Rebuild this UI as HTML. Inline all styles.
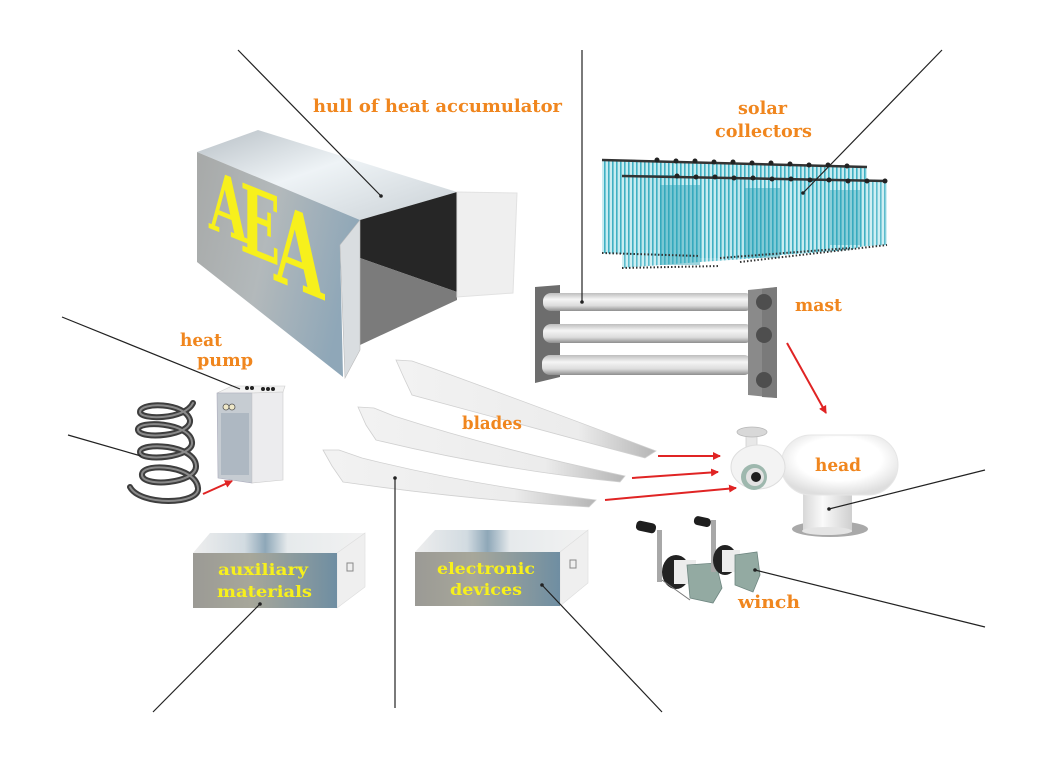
<!DOCTYPE html>
<html><head><meta charset="utf-8"><style>
html,body{margin:0;padding:0;background:#fff;}
svg{display:block;}
.lbl{font-family:"DejaVu Serif","Liberation Serif",serif;font-weight:bold;fill:#f0861e;}
.yl{font-family:"DejaVu Serif","Liberation Serif",serif;font-weight:bold;fill:#f7f01c;}
.ln{stroke:#222;stroke-width:1.2;fill:none;}
.ar{stroke:#e02424;stroke-width:2;fill:none;marker-end:url(#ah);}
</style></head><body>
<svg width="1040" height="777" viewBox="0 0 1040 777" xmlns="http://www.w3.org/2000/svg">
<defs>
<marker id="ah" markerWidth="8" markerHeight="8" refX="7" refY="4" orient="auto" markerUnits="userSpaceOnUse">
<path d="M0,0 L8,4 L0,8 Z" fill="#e02424"/></marker>
<linearGradient id="topg" x1="0" y1="0" x2="1" y2="1">
<stop offset="0" stop-color="#b8c0c6"/><stop offset="0.45" stop-color="#eef3f6"/><stop offset="1" stop-color="#c9d0d5"/></linearGradient>
<linearGradient id="sideg" x1="0" y1="0" x2="1" y2="0.3">
<stop offset="0" stop-color="#a7a9a8"/><stop offset="0.5" stop-color="#b3b9bb"/><stop offset="1" stop-color="#8fa7b8"/></linearGradient>
<linearGradient id="tube" x1="0" y1="0" x2="0" y2="1">
<stop offset="0" stop-color="#bdbdbd"/><stop offset="0.35" stop-color="#f5f5f5"/><stop offset="0.7" stop-color="#dcdcdc"/><stop offset="1" stop-color="#8e8e8e"/></linearGradient>
<linearGradient id="boxf" x1="0" y1="0" x2="1" y2="0">
<stop offset="0" stop-color="#9b9a95"/><stop offset="0.4" stop-color="#a7a79a"/><stop offset="1" stop-color="#6f8ea2"/></linearGradient>
<linearGradient id="boxt" x1="0" y1="0" x2="1" y2="0">
<stop offset="0" stop-color="#eeeeee"/><stop offset="0.3" stop-color="#d2dbe1"/><stop offset="0.42" stop-color="#8ea7b8"/><stop offset="0.55" stop-color="#e6eaec"/><stop offset="1" stop-color="#f2f2f2"/></linearGradient>
<linearGradient id="blade" x1="0" y1="0" x2="1" y2="0">
<stop offset="0" stop-color="#f2f2f2"/><stop offset="0.7" stop-color="#ececec"/><stop offset="1" stop-color="#b5b5b5"/></linearGradient>
<pattern id="tubes" width="4" height="10" patternUnits="userSpaceOnUse">
<rect width="4" height="10" fill="#c8ecf1"/><rect width="1.6" height="10" fill="#3fb0c3"/></pattern>
<linearGradient id="ped" x1="0" y1="0" x2="1" y2="0">
<stop offset="0" stop-color="#d8d8d8"/><stop offset="0.4" stop-color="#fafafa"/><stop offset="1" stop-color="#cfcfcf"/></linearGradient>
<radialGradient id="capg" cx="0.5" cy="0.4" r="0.6">
<stop offset="0.6" stop-color="#ffffff"/><stop offset="1" stop-color="#dedede"/></radialGradient>
</defs>
<rect width="1040" height="777" fill="#fff"/>

<!-- HULL -->
<polygon points="197,152 258,130 457,192 360,220" fill="url(#topg)"/>
<polygon points="197,152 360,220 340,245 343,377 197,262" fill="url(#sideg)"/>
<polygon points="360,220 457,192 457,292 360,258" fill="#262626"/>
<polygon points="360,258 457,292 457,300 360,345" fill="#7b7b7b"/>
<polygon points="457,192 517,193 513,293 457,297" fill="#efefef" stroke="#e2e2e2" stroke-width="1"/>
<polygon points="340,245 360,220 360,350 345,378" fill="#d9dde0" stroke="#bbb" stroke-width="0.6"/>
<text class="yl" font-size="82" transform="translate(209,228) skewY(22) scale(0.6,1)">A</text>
<text class="yl" font-size="94" transform="translate(240,250) skewY(22) scale(0.56,1)">E</text>
<text class="yl" font-size="108" transform="translate(274,280) skewY(22) scale(0.6,1)">A</text>
<line class="ln" x1="238" y1="50" x2="381" y2="196"/>
<circle cx="381" cy="196" r="1.8" fill="#222"/>
<text class="lbl" x="313" y="112" font-size="18" textLength="249" lengthAdjust="spacingAndGlyphs">hull of heat accumulator</text>

<!-- SOLAR -->
<polygon points="602,160 867,167 867,245 850,250 740,258 700,258 602,253" fill="url(#tubes)"/>
<rect x="640" y="175" width="40" height="75" fill="#2aa2b6" opacity="0.55"/>
<rect x="720" y="178" width="35" height="72" fill="#2aa2b6" opacity="0.5"/>
<rect x="800" y="180" width="30" height="60" fill="#2aa2b6" opacity="0.45"/>
<polygon points="622,176 887,181 887,245 800,250 760,258 700,262 622,268" fill="url(#tubes)" opacity="0.85"/>
<rect x="660" y="185" width="40" height="80" fill="#2aa2b6" opacity="0.45"/>
<rect x="745" y="188" width="35" height="70" fill="#2aa2b6" opacity="0.45"/>
<rect x="830" y="190" width="30" height="55" fill="#2aa2b6" opacity="0.4"/>
<line x1="602" y1="160" x2="867" y2="167" stroke="#333" stroke-width="2.5"/>
<line x1="622" y1="176" x2="887" y2="181" stroke="#333" stroke-width="2.5"/>
<g fill="#222">
<circle cx="657" cy="160" r="2.5"/><circle cx="676" cy="161" r="2.5"/><circle cx="695" cy="161" r="2.5"/><circle cx="714" cy="162" r="2.5"/><circle cx="733" cy="162" r="2.5"/><circle cx="752" cy="163" r="2.5"/><circle cx="771" cy="163" r="2.5"/><circle cx="790" cy="164" r="2.5"/><circle cx="809" cy="165" r="2.5"/><circle cx="828" cy="165" r="2.5"/><circle cx="847" cy="166" r="2.5"/>
<circle cx="677" cy="176" r="2.5"/><circle cx="696" cy="177" r="2.5"/><circle cx="715" cy="177" r="2.5"/><circle cx="734" cy="178" r="2.5"/><circle cx="753" cy="178" r="2.5"/><circle cx="772" cy="179" r="2.5"/><circle cx="791" cy="179" r="2.5"/><circle cx="810" cy="180" r="2.5"/><circle cx="829" cy="180" r="2.5"/><circle cx="848" cy="181" r="2.5"/><circle cx="867" cy="181" r="2.5"/><circle cx="885" cy="181" r="2.5"/>
</g>
<line x1="602" y1="253" x2="700" y2="256" stroke="#333" stroke-width="2" stroke-dasharray="1.5,2"/>
<line x1="622" y1="268" x2="720" y2="266" stroke="#333" stroke-width="2" stroke-dasharray="1.5,2"/>
<line x1="720" y1="258" x2="850" y2="248" stroke="#333" stroke-width="2" stroke-dasharray="1.5,2"/>
<line x1="740" y1="262" x2="887" y2="245" stroke="#333" stroke-width="2" stroke-dasharray="1.5,2"/>
<line class="ln" x1="942" y1="50" x2="803" y2="193"/>
<circle cx="803" cy="193" r="1.8" fill="#222"/>
<text class="lbl" x="738" y="114" font-size="18" textLength="49" lengthAdjust="spacingAndGlyphs">solar</text>
<text class="lbl" x="715" y="137" font-size="18" textLength="97" lengthAdjust="spacingAndGlyphs">collectors</text>

<!-- MAST -->
<polygon points="535,287 560,285 560,377 535,383" fill="#6d6d6d"/>
<rect x="543" y="293" width="210" height="18" rx="8" fill="url(#tube)"/>
<rect x="543" y="324" width="210" height="19" rx="8" fill="url(#tube)"/>
<rect x="542" y="355" width="210" height="20" rx="8" fill="url(#tube)"/>
<polygon points="748,290 777,287 777,398 748,395" fill="#8a8a8a"/>
<polygon points="762,289 777,287 777,398 762,397" fill="#7a7a7a"/>
<circle cx="764" cy="302" r="8" fill="#4e4e4e"/>
<circle cx="764" cy="335" r="8" fill="#4e4e4e"/>
<circle cx="764" cy="380" r="8" fill="#4e4e4e"/>
<line class="ln" x1="582" y1="50" x2="582" y2="302"/>
<circle cx="582" cy="302" r="1.8" fill="#222"/>
<text class="lbl" x="795" y="311" font-size="18" textLength="47" lengthAdjust="spacingAndGlyphs">mast</text>
<line class="ar" x1="787" y1="343" x2="826" y2="413"/>

<!-- BLADES -->
<path d="M396,360 L412,361 L432,368 Q520,400 656,451 L645,458 Q540,430 412,395 L404,378 Z" fill="url(#blade)" stroke="#d0d0d0" stroke-width="0.8"/>
<path d="M358,407 L374,408 L394,416 Q500,450 625,476 L620,482 Q500,470 376,440 L366,425 Z" fill="url(#blade)" stroke="#d0d0d0" stroke-width="0.8"/>
<path d="M323,450 L339,450 L362,458 Q470,485 596,500 L589,507 Q470,500 343,482 L332,466 Z" fill="url(#blade)" stroke="#d0d0d0" stroke-width="0.8"/>
<text class="lbl" x="462" y="429" font-size="18" textLength="60" lengthAdjust="spacingAndGlyphs">blades</text>
<line class="ln" x1="395" y1="478" x2="395" y2="708"/>
<circle cx="395" cy="478" r="1.8" fill="#222"/>
<line class="ar" x1="658" y1="456" x2="720" y2="456"/>
<line class="ar" x1="632" y1="478" x2="718" y2="472"/>
<line class="ar" x1="605" y1="500" x2="736" y2="488"/>

<!-- HEAD -->
<ellipse cx="830" cy="529" rx="38" ry="8" fill="#a9a9a9"/>
<rect x="803" y="490" width="49" height="42" fill="url(#ped)"/>
<ellipse cx="827" cy="531" rx="25" ry="4" fill="#e4e4e4"/>
<rect x="781" y="435" width="117" height="60" rx="30" fill="url(#capg)" stroke="#e6e6e6" stroke-width="1"/>
<rect x="746" y="430" width="11" height="22" fill="#e8e8e8" stroke="#cfcfcf" stroke-width="0.8"/>
<ellipse cx="752" cy="432" rx="15" ry="5" fill="#d8d8d8" stroke="#b8b8b8" stroke-width="0.8"/>
<ellipse cx="758" cy="467" rx="27" ry="22" fill="#f3f3f3" stroke="#dedede" stroke-width="1"/>
<circle cx="754" cy="477" r="13" fill="#9eb8ae"/>
<circle cx="755" cy="477" r="9" fill="#e2e2e2"/>
<circle cx="756" cy="477" r="5" fill="#1e1e1e"/>
<text class="lbl" x="815" y="471" font-size="18" textLength="46" lengthAdjust="spacingAndGlyphs">head</text>
<line class="ln" x1="985" y1="470" x2="829" y2="509"/>
<circle cx="829" cy="509" r="1.8" fill="#222"/>

<!-- WINCH -->
<g>
<rect x="657" y="530" width="5" height="52" fill="#a8a8a8"/>
<rect x="636" y="522" width="20" height="10" rx="4" fill="#1e1e1e" transform="rotate(12 646 527)"/>
<ellipse cx="676" cy="572" rx="14" ry="17" fill="#222"/>
<rect x="674" y="560" width="22" height="24" fill="#ececec"/>
<polygon points="687,565 716,563 722,588 713,603 690,598" fill="#93aaa2" stroke="#6e8680" stroke-width="0.8"/>
<line x1="662" y1="580" x2="690" y2="600" stroke="#777" stroke-width="1"/>
<rect x="711" y="520" width="5" height="52" fill="#a8a8a8"/>
<rect x="694" y="517" width="17" height="9" rx="4" fill="#1e1e1e" transform="rotate(12 702 521)"/>
<ellipse cx="725" cy="560" rx="12" ry="15" fill="#222"/>
<rect x="722" y="550" width="18" height="22" fill="#ececec"/>
<polygon points="735,555 757,552 760,575 753,592 735,585" fill="#93aaa2" stroke="#6e8680" stroke-width="0.8"/>
</g>
<line class="ln" x1="755" y1="570" x2="985" y2="627"/>
<circle cx="755" cy="570" r="1.8" fill="#222"/>
<text class="lbl" x="738" y="608" font-size="18" textLength="62" lengthAdjust="spacingAndGlyphs">winch</text>

<!-- HEAT PUMP -->
<polygon points="217,393 232,386 285,386 283,392 252,393" fill="#f2f2f2" stroke="#ccc" stroke-width="0.6"/>
<polygon points="217,393 252,393 252,483 218,478" fill="#c6ccd2" stroke="#aab" stroke-width="0.6"/>
<rect x="221" y="413" width="28" height="62" fill="#aeb8c2"/>
<polygon points="252,393 283,392 283,480 252,483" fill="#ececee" stroke="#ccc" stroke-width="0.6"/>
<circle cx="226" cy="407" r="3" fill="#efe8c8" stroke="#555" stroke-width="0.8"/>
<circle cx="232" cy="407" r="3" fill="#efe8c8" stroke="#555" stroke-width="0.8"/>
<g fill="#222"><circle cx="247" cy="388" r="2"/><circle cx="252" cy="388" r="2"/><circle cx="263" cy="389" r="2"/><circle cx="268" cy="389" r="2"/><circle cx="273" cy="389" r="2"/></g>
<text class="lbl" x="180" y="346" font-size="18" textLength="42" lengthAdjust="spacingAndGlyphs">heat</text>
<text class="lbl" x="197" y="366" font-size="18" textLength="56" lengthAdjust="spacingAndGlyphs">pump</text>
<line class="ln" x1="62" y1="317" x2="240" y2="389"/>

<!-- COIL -->
<g fill="none" stroke-linecap="round">
<path d="M193,403 C185,420 140,420 140,412 C140,402 185,402 190,420 C192,436 140,440 138,430 C136,420 190,422 192,442 C194,458 140,462 140,452 C140,442 195,444 196,466 C197,484 140,488 142,474 C144,462 196,466 198,488 C200,505 140,506 130,487" stroke="#3e3e3e" stroke-width="6"/>
<path d="M193,403 C185,420 140,420 140,412 C140,402 185,402 190,420 C192,436 140,440 138,430 C136,420 190,422 192,442 C194,458 140,462 140,452 C140,442 195,444 196,466 C197,484 140,488 142,474 C144,462 196,466 198,488 C200,505 140,506 130,487" stroke="#8a8a8a" stroke-width="2"/>
</g>
<line class="ln" x1="68" y1="435" x2="141" y2="456"/>
<line class="ar" x1="203" y1="494" x2="232" y2="481"/>

<!-- AUX BOX -->
<polygon points="193,553 210,533 365,533 337,553" fill="url(#boxt)"/>
<polygon points="337,553 365,533 365,587 337,608" fill="#efefef" stroke="#ddd" stroke-width="0.6"/>
<rect x="193" y="553" width="144" height="55" fill="url(#boxf)"/>
<rect x="347" y="563" width="6" height="8" fill="none" stroke="#888" stroke-width="1"/>
<text class="yl" x="218" y="575" font-size="16" textLength="90" lengthAdjust="spacingAndGlyphs">auxiliary</text>
<text class="yl" x="217" y="597" font-size="16" textLength="95" lengthAdjust="spacingAndGlyphs">materials</text>
<line class="ln" x1="153" y1="712" x2="260" y2="604"/>
<circle cx="260" cy="604" r="1.8" fill="#222"/>

<!-- ELECTRONIC BOX -->
<polygon points="415,552 435,530 588,530 560,552" fill="url(#boxt)"/>
<polygon points="560,552 588,530 588,583 560,606" fill="#efefef" stroke="#ddd" stroke-width="0.6"/>
<rect x="415" y="552" width="145" height="54" fill="url(#boxf)"/>
<rect x="570" y="560" width="6" height="8" fill="none" stroke="#888" stroke-width="1"/>
<text class="yl" x="437" y="574" font-size="16" textLength="98" lengthAdjust="spacingAndGlyphs">electronic</text>
<text class="yl" x="450" y="595" font-size="16" textLength="72" lengthAdjust="spacingAndGlyphs">devices</text>
<line class="ln" x1="542" y1="585" x2="662" y2="712"/>
<circle cx="542" cy="585" r="1.8" fill="#222"/>
</svg>
</body></html>
